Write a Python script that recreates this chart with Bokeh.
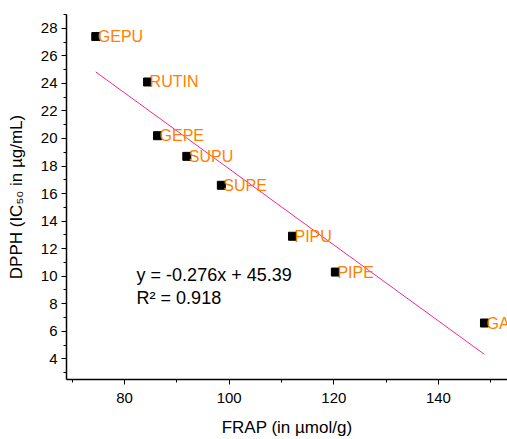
from bokeh.plotting import figure
from bokeh.models import ColumnDataSource, Range1d, FixedTicker, Label
from bokeh.core.properties import value
from bokeh.embed import file_html
from bokeh.resources import INLINE

names = ["GEPU", "RUTIN", "GEPE", "SUPU", "SUPE", "PIPU", "PIPE", "GA"]
frap = [74.5, 84.4, 86.3, 91.9, 98.5, 112.1, 120.3, 148.8]
dpph = [27.4, 24.1, 20.2, 18.7, 16.6, 12.9, 10.3, 6.6]
slope = -0.276
intercept = 45.39
eq_text = "y = -0.276x + 45.39"
r2_text = "R² = 0.918"
x_ticks = [80, 100, 120, 140]
y_ticks = [4, 6, 8, 10, 12, 14, 16, 18, 20, 22, 24, 26, 28]

FONT = "Liberation Sans"

p = figure(width=507, height=439, output_backend="svg", toolbar_location=None,
           x_range=Range1d(68.9, 153.2), y_range=Range1d(2.5, 29.0),
           min_border_left=66, min_border_right=0, min_border_top=14, min_border_bottom=59)
p.outline_line_color = None
p.grid.visible = False
p.background_fill_color = "white"

src = ColumnDataSource(dict(x=frap, y=dpph, name=names))
fx = [min(frap), max(frap)]
fy = [slope * v + intercept for v in fx]
p.line(fx, fy, line_color="#F2288C", line_width=1)
p.scatter("x", "y", source=src, marker="square", size=8, color="black")
p.text("x", "y", text="name", source=src, x_offset=2, text_baseline="middle",
       text_align="left", text_color="#FF8000", text_font_size="16px",
       text_font=value(FONT))

for ax in (p.xaxis[0], p.yaxis[0]):
    ax.axis_line_color = "black"
    ax.axis_line_width = 1.5
    ax.major_tick_line_color = "black"
    ax.minor_tick_line_color = "black"
    ax.major_tick_out = 5
    ax.major_tick_in = 0
    ax.minor_tick_out = 3
    ax.minor_tick_in = 0
    ax.major_label_text_font = FONT
    ax.major_label_text_font_size = "15px"
    ax.major_label_text_color = "black"
    ax.axis_label_text_font = FONT
    ax.axis_label_text_font_size = "17px"
    ax.axis_label_text_font_style = "normal"
    ax.axis_label_text_color = "black"

p.xaxis[0].ticker = FixedTicker(ticks=x_ticks, minor_ticks=[70, 90, 110, 130, 150])
p.yaxis[0].ticker = FixedTicker(ticks=y_ticks, minor_ticks=[3, 5, 7, 9, 11, 13, 15, 17, 19, 21, 23, 25, 27, 29])
p.xaxis[0].axis_label = "FRAP (in µmol/g)"
p.yaxis[0].axis_label = "DPPH (IC₅₀ in µg/mL)"
p.xaxis[0].major_label_standoff = 8
p.xaxis[0].axis_label_standoff = 12
p.yaxis[0].major_label_standoff = 4
p.yaxis[0].axis_label_standoff = 12

p.add_layout(Label(x=82.3, y=10.1, text=eq_text, text_baseline="middle",
                   text_font=FONT, text_font_size="18px", text_color="black"))
p.add_layout(Label(x=82.3, y=8.4, text=r2_text, text_baseline="middle",
                   text_font=FONT, text_font_size="18px", text_color="black"))

open("out.html", "w").write(file_html(p, INLINE))
